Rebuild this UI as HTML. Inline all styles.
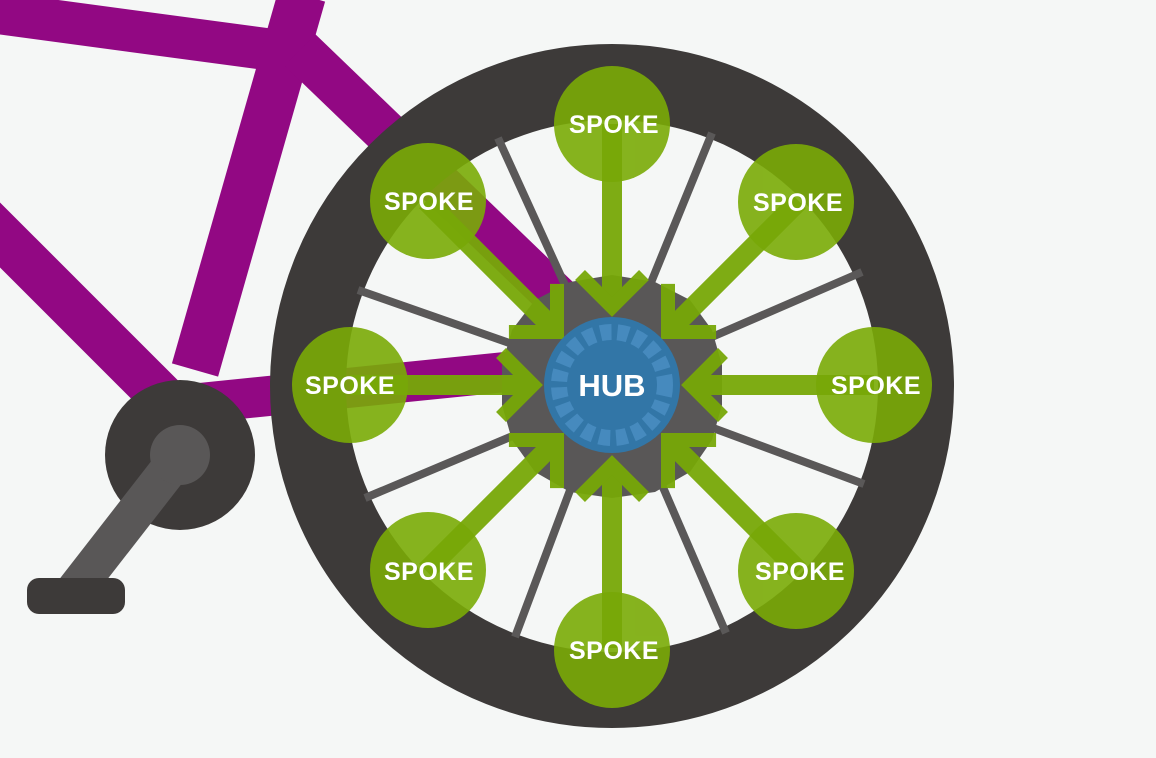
<!DOCTYPE html>
<html><head><style>
html,body{margin:0;padding:0;background:#f5f7f6;}
svg{display:block;}
text{font-family:"Liberation Sans",sans-serif;font-weight:bold;fill:#fff;}
</style></head><body>
<svg width="1156" height="758" viewBox="0 0 1156 758" xmlns="http://www.w3.org/2000/svg">
<rect width="1156" height="758" fill="#f5f7f6"/>
<!-- frame -->
<g stroke="#920883" stroke-linecap="butt" fill="none">
<line x1="-10" y1="12" x2="310" y2="55" stroke-width="42"/>
<line x1="302" y1="-5" x2="195" y2="370" stroke-width="48"/>
<line x1="300" y1="50" x2="565" y2="305" stroke-width="44"/>
<line x1="-20" y1="215" x2="185" y2="420" stroke-width="46"/>
<line x1="180" y1="405" x2="545" y2="368" stroke-width="40"/>
</g>
<!-- crank -->
<circle cx="180" cy="455" r="75" fill="#3d3a39"/>
<line x1="180" y1="455" x2="75" y2="590" stroke="#595757" stroke-width="38"/>
<circle cx="180" cy="455" r="30" fill="#595757"/>
<rect x="27" y="578" width="98" height="36" rx="12" fill="#3d3a39"/>
<!-- rim -->
<circle cx="612" cy="386" r="304" fill="none" stroke="#3d3a39" stroke-width="76"/>
<!-- spokes -->
<g stroke="#5a5858" stroke-width="8">
<line x1="498" y1="138" x2="565" y2="285"/>
<line x1="712" y1="133" x2="650" y2="285"/>
<line x1="862" y1="272" x2="705" y2="340"/>
<line x1="864" y1="484" x2="705" y2="425"/>
<line x1="726" y1="633" x2="662" y2="485"/>
<line x1="515" y1="637" x2="572" y2="485"/>
<line x1="358" y1="290" x2="515" y2="345"/>
<line x1="365" y1="498" x2="515" y2="435"/>
</g>
<!-- hub gray -->
<polygon fill="#595757" points="612,275 655,282 690,300 712,330 722,365 722,405 712,440 690,472 655,492 612,498 570,492 535,472 512,440 502,405 502,365 512,330 535,300 570,282"/>
<!-- spoke circles -->
<g fill="#7aab07" opacity="0.9">
<circle cx="612" cy="124" r="58"/>
<circle cx="428" cy="201" r="58"/>
<circle cx="796" cy="202" r="58"/>
<circle cx="350" cy="385" r="58"/>
<circle cx="874" cy="385" r="58"/>
<circle cx="428" cy="570" r="58"/>
<circle cx="796" cy="571" r="58"/>
<circle cx="612" cy="650" r="58"/>
</g>
<!-- arrows -->
<defs>
<g id="a0"><line x1="-183" y1="0" x2="-8" y2="0" stroke="#78a808" stroke-width="20"/><polyline points="-32,-32 0,0 -32,32" fill="none" stroke="#78a808" stroke-width="14" stroke-linejoin="miter"/></g>
<g id="a1"><line x1="-185" y1="0" x2="-8" y2="0" stroke="#78a808" stroke-width="20"/><polyline points="-34,-34 0,0 -34,34" fill="none" stroke="#78a808" stroke-width="14" stroke-linejoin="miter"/></g>
</defs>
<g opacity="0.95">
<use href="#a0" transform="translate(533,385)"/>
<use href="#a0" transform="translate(691,385) rotate(180)"/>
<use href="#a0" transform="translate(612,307) rotate(90)"/>
<use href="#a0" transform="translate(612,465) rotate(-90)"/>
<use href="#a1" transform="translate(557,332) rotate(45)"/>
<use href="#a1" transform="translate(668,332) rotate(135)"/>
<use href="#a1" transform="translate(557,440) rotate(-45)"/>
<use href="#a1" transform="translate(668,440) rotate(-135)"/>
</g>
<!-- hub -->
<circle cx="612" cy="385" r="68" fill="#3276a7"/>
<circle cx="612" cy="385" r="53" fill="none" stroke="#4b90c4" stroke-opacity="0.8" stroke-width="16" stroke-dasharray="11 6"/>
<text x="612" y="396" font-size="31" text-anchor="middle">HUB</text>
<g font-size="25" text-anchor="middle" letter-spacing="0.5">
<text x="614" y="133">SPOKE</text>
<text x="429" y="210">SPOKE</text>
<text x="798" y="211">SPOKE</text>
<text x="350" y="394">SPOKE</text>
<text x="876" y="394">SPOKE</text>
<text x="429" y="580">SPOKE</text>
<text x="800" y="580">SPOKE</text>
<text x="614" y="659">SPOKE</text>
</g>
</svg>
</body></html>
